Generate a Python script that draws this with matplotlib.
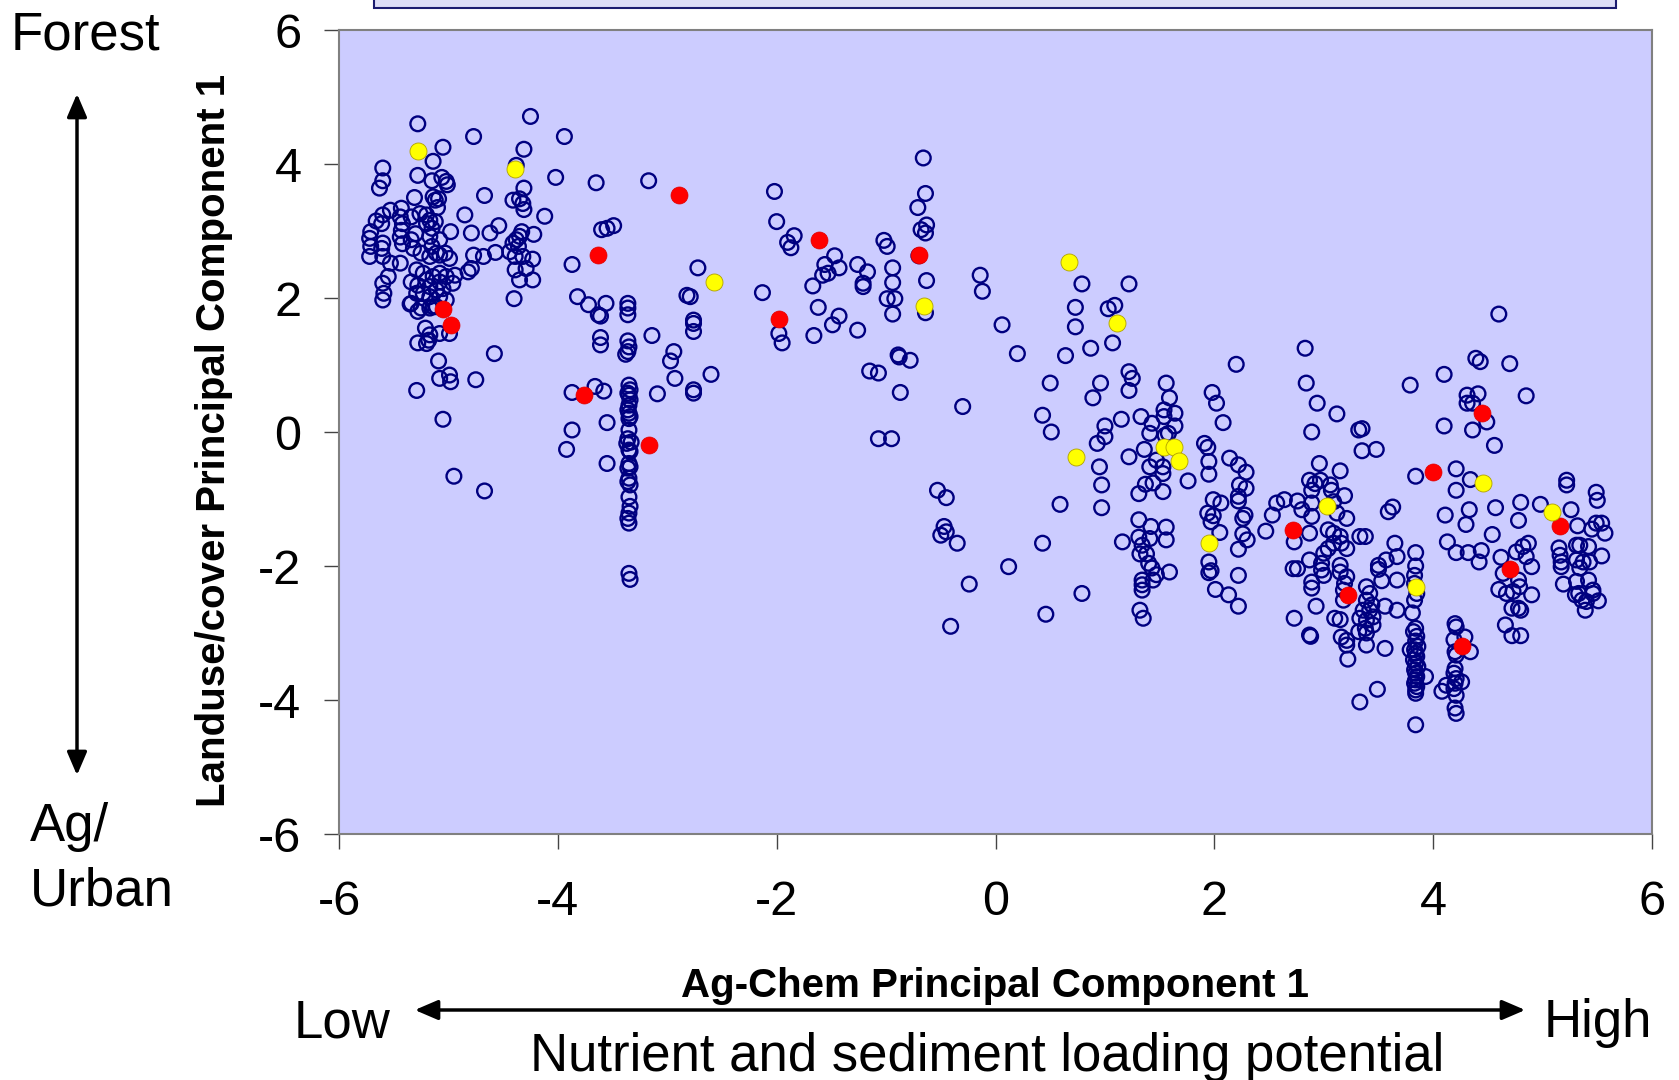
import matplotlib
matplotlib.use("Agg")
import matplotlib.pyplot as plt
from matplotlib.patches import FancyArrowPatch, Rectangle

plt.rcParams['font.family'] = ['Liberation Sans', 'DejaVu Sans']

# all sites (open navy circles)
blue_pts = [
    # left cluster
    (-5.28, 4.60), (-5.05, 4.25), (-4.77, 4.41), (-4.25, 4.71), (-3.94, 4.41), (-4.31, 4.22),
    (-5.14, 4.04), (-5.60, 3.94), (-5.60, 3.75), (-5.63, 3.64), (-5.28, 3.83), (-5.06, 3.80),
    (-5.02, 3.74), (-5.01, 3.69), (-5.15, 3.75), (-4.38, 3.98), (-4.02, 3.80), (-3.65, 3.72),
    (-4.67, 3.53), (-4.31, 3.64), (-4.41, 3.46), (-4.35, 3.48), (-4.32, 3.41), (-4.31, 3.32),
    (-5.31, 3.50), (-5.14, 3.51), (-5.09, 3.48), (-5.10, 3.35), (-5.12, 3.46), (-5.53, 3.31),
    (-5.60, 3.24), (-5.66, 3.15), (-5.61, 3.11), (-5.43, 3.34), (-5.44, 3.21), (-5.42, 3.11),
    (-5.43, 3.01), (-5.44, 2.91), (-5.42, 2.81), (-5.71, 2.99), (-5.72, 2.89), (-5.71, 2.77),
    (-5.72, 2.62), (-5.60, 2.82), (-5.61, 2.74), (-5.60, 2.62), (-5.34, 3.21), (-5.26, 3.26),
    (-5.20, 3.24), (-5.30, 2.96), (-5.34, 2.87), (-5.32, 2.74), (-5.20, 3.11), (-5.17, 3.16),
    (-5.12, 3.14), (-5.15, 3.04), (-5.17, 2.92), (-4.85, 3.24), (-4.98, 2.99), (-5.08, 2.87),
    (-5.15, 2.77), (-5.11, 2.67), (-4.79, 2.97), (-4.62, 2.97), (-4.54, 3.08), (-4.77, 2.64),
    (-4.68, 2.62), (-4.57, 2.68), (-4.22, 2.95), (-4.33, 2.99), (-4.35, 2.92), (-4.38, 2.87),
    (-4.41, 2.82), (-4.36, 2.77), (-4.44, 2.69), (-4.39, 2.62), (-4.32, 2.62), (-4.23, 2.58),
    (-4.39, 2.42), (-4.29, 2.44), (-4.35, 2.27), (-4.23, 2.27), (-4.40, 1.99), (-4.12, 3.22),
    (-3.87, 2.50), (-3.82, 2.02), (-3.72, 1.90), (-5.53, 2.52), (-5.44, 2.52), (-5.55, 2.32),
    (-5.60, 2.22), (-5.59, 2.07), (-5.60, 1.97), (-5.25, 2.67), (-5.17, 2.62), (-5.08, 2.64),
    (-5.03, 2.67), (-4.99, 2.59), (-5.29, 2.42), (-5.23, 2.37), (-5.34, 2.24), (-5.28, 2.19),
    (-5.20, 2.27), (-5.14, 2.32), (-5.08, 2.37), (-5.02, 2.32), (-4.94, 2.34), (-4.96, 2.22),
    (-5.17, 2.17), (-5.11, 2.12), (-5.05, 2.14), (-5.23, 2.07), (-5.29, 2.07), (-5.17, 2.02),
    (-5.08, 2.02), (-5.34, 1.92), (-5.25, 1.85), (-5.14, 1.87), (-5.02, 1.97), (-5.08, 2.24),
    (-4.82, 2.39), (-4.79, 2.44), (-5.21, 1.55), (-5.17, 1.45), (-5.18, 1.37), (-5.28, 1.33),
    (-5.20, 1.32), (-5.08, 1.47), (-4.99, 1.47), (-4.58, 1.17), (-5.09, 1.06), (-5.08, 0.80),
    (-4.99, 0.85), (-4.98, 0.75), (-4.75, 0.78), (-5.29, 0.62), (-5.05, 0.19), (-4.95, -0.66),
    (-4.67, -0.88), (-3.87, 0.59), (-3.66, 0.68), (-3.63, 1.75), (-3.87, 0.03), (-3.92, -0.26),
    (-5.35, 1.91), (-5.28, 1.80), (-5.17, 1.85), (-5.11, 1.87),
    # x ~ -3.5 .. -2
    (-3.17, 3.75), (-2.02, 3.59), (-2.00, 3.14), (-3.55, 3.04), (-3.60, 3.02), (-3.49, 3.08),
    (-2.72, 2.45), (-2.82, 2.04), (-2.79, 2.02), (-2.13, 2.08), (-3.61, 1.73), (-3.56, 1.92),
    (-3.36, 1.92), (-3.36, 1.85), (-3.36, 1.75), (-2.76, 1.67), (-2.76, 1.62), (-2.76, 1.50),
    (-1.98, 1.47), (-3.61, 1.41), (-3.61, 1.30), (-3.36, 1.36), (-3.35, 1.27), (-3.36, 1.20),
    (-3.38, 1.16), (-3.14, 1.44), (-2.94, 1.20), (-2.97, 1.06), (-2.60, 0.86), (-2.93, 0.80),
    (-2.76, 0.63), (-2.76, 0.58), (-3.09, 0.57), (-3.58, 0.61), (-3.55, 0.14), (-3.55, -0.47),
    # column at x ~ -3.35
    (-3.35, 0.70), (-3.34, 0.63), (-3.36, 0.58), (-3.35, 0.55), (-3.34, 0.48), (-3.35, 0.40),
    (-3.36, 0.33), (-3.35, 0.28), (-3.34, 0.23), (-3.35, 0.20), (-3.35, 0.03), (-3.36, -0.10),
    (-3.33, -0.15), (-3.37, -0.17), (-3.35, -0.27), (-3.34, -0.29), (-3.35, -0.47), (-3.34, -0.52),
    (-3.36, -0.54), (-3.35, -0.69), (-3.36, -0.74), (-3.34, -0.79), (-3.35, -0.97), (-3.34, -1.11),
    (-3.35, -1.21), (-3.36, -1.29), (-3.35, -1.36), (-3.35, -2.11), (-3.34, -2.20),
    # middle
    (-0.66, 4.09), (-0.64, 3.56), (-0.71, 3.35), (-0.63, 3.09), (-0.68, 3.02), (-0.64, 2.97),
    (-1.84, 2.93), (-1.90, 2.83), (-1.87, 2.75), (-1.02, 2.86), (-0.99, 2.77), (-0.70, 2.63),
    (-1.47, 2.63), (-1.56, 2.50), (-1.43, 2.45), (-1.53, 2.37), (-1.58, 2.34), (-1.67, 2.18),
    (-1.26, 2.50), (-1.17, 2.39), (-1.21, 2.22), (-1.21, 2.17), (-0.94, 2.45), (-0.94, 2.23),
    (-0.99, 1.99), (-0.92, 1.99), (-0.94, 1.76), (-0.63, 2.26), (-1.62, 1.86), (-1.43, 1.73),
    (-1.49, 1.60), (-1.66, 1.44), (-1.26, 1.52), (-1.95, 1.33), (-0.64, 1.78), (-0.14, 2.34),
    (-0.12, 2.10), (0.06, 1.60), (0.20, 1.17), (-0.89, 1.15), (-0.88, 1.12), (-0.78, 1.07),
    (-1.15, 0.91), (-1.07, 0.88), (-0.87, 0.59), (-0.30, 0.38), (-1.07, -0.10), (-0.95, -0.10),
    (0.79, 2.21), (1.22, 2.21), (0.73, 1.86), (0.73, 1.57), (1.03, 1.84), (1.09, 1.89),
    (1.07, 1.33), (0.87, 1.25), (0.64, 1.14), (1.22, 0.90), (1.25, 0.80), (1.22, 0.62),
    (0.96, 0.73), (0.89, 0.51), (0.50, 0.73), (0.43, 0.25), (0.51, 0.00),
    (1.56, 0.73), (1.59, 0.51), (1.54, 0.33), (1.64, 0.28), (1.54, 0.23), (1.64, 0.09),
    (1.55, -0.05), (1.58, -0.02), (1.33, 0.23), (1.43, 0.13), (1.41, -0.02), (1.15, 0.19),
    (1.00, 0.09), (1.00, -0.07), (0.93, -0.17), (1.36, -0.26), (1.22, -0.37), (0.95, -0.52),
    (0.97, -0.79), (0.97, -1.13), (0.59, -1.08), (1.47, -0.42), (1.53, -0.52), (1.53, -0.62),
    (1.41, -0.52), (1.44, -0.76), (1.37, -0.78), (1.31, -0.92), (1.53, -0.89), (1.76, -0.73),
    (-0.53, -0.87), (-0.45, -0.98), (-0.47, -1.41), (-0.50, -1.54), (-0.45, -1.49), (-0.35, -1.66),
    (0.43, -1.66), (0.12, -2.01), (-0.24, -2.27), (0.79, -2.41), (0.46, -2.72), (-0.41, -2.90),
    (1.31, -1.31), (1.42, -1.41), (1.56, -1.42), (1.31, -1.57), (1.41, -1.59), (1.56, -1.61),
    (1.16, -1.64), (1.34, -1.69), (1.32, -1.82), (1.38, -1.82), (1.40, -1.96), (1.43, -2.03),
    (1.47, -2.13), (1.59, -2.09), (1.44, -2.21), (1.34, -2.21), (1.34, -2.28), (1.34, -2.36),
    (1.32, -2.66), (1.35, -2.78),
    # x ~ 2 .. 3.7
    (2.20, 1.01), (2.83, 1.25), (2.84, 0.73), (2.94, 0.43), (3.12, 0.27), (2.89, 0.00),
    (3.32, 0.03), (3.35, 0.05), (3.35, -0.28), (3.48, -0.26), (1.98, 0.59), (2.02, 0.43),
    (2.08, 0.14), (1.91, -0.17), (1.94, -0.23), (1.95, -0.44), (1.95, -0.63), (2.14, -0.39),
    (2.22, -0.49), (2.29, -0.60), (2.23, -0.79), (2.29, -0.84), (2.22, -0.96), (2.22, -1.03),
    (1.99, -1.01), (2.06, -1.06), (1.94, -1.21), (1.99, -1.25), (1.97, -1.34), (2.05, -1.50),
    (2.28, -1.24), (2.26, -1.29), (2.26, -1.52), (2.30, -1.61), (2.22, -1.75), (1.95, -1.94),
    (1.95, -2.10), (1.97, -2.07), (2.22, -2.14), (2.01, -2.35), (2.13, -2.43), (2.22, -2.60),
    (2.47, -1.48), (2.53, -1.24), (2.57, -1.06), (2.64, -1.01), (2.76, -1.03), (2.80, -1.16),
    (2.73, -1.64), (2.72, -2.04), (2.76, -2.04), (2.87, -0.72), (2.92, -0.77), (2.97, -0.72),
    (2.89, -0.87), (2.89, -1.06), (2.89, -1.26), (2.87, -1.51), (2.96, -0.47), (3.15, -0.58),
    (3.19, -0.95), (3.06, -0.79), (3.07, -0.87), (3.09, -1.04), (3.12, -1.21), (3.21, -1.29),
    (3.04, -1.46), (3.09, -1.51), (3.15, -1.56), (3.16, -1.66), (3.21, -1.74), (3.09, -1.66),
    (3.04, -1.74), (3.00, -1.81), (2.87, -1.91), (2.98, -1.96), (2.98, -2.06), (3.15, -1.99),
    (3.15, -2.09), (2.89, -2.24), (2.89, -2.33), (3.00, -2.14), (3.21, -2.16), (3.19, -2.26),
    (3.18, -2.36), (3.18, -2.51), (3.33, -1.56), (3.38, -1.56), (2.93, -2.60), (2.73, -2.78),
    (2.87, -3.03), (2.88, -3.05), (3.10, -2.78), (3.15, -2.80), (3.39, -2.31), (3.42, -2.41),
    (3.39, -2.51), (3.44, -2.58), (3.36, -2.66), (3.42, -2.66), (3.45, -2.76), (3.33, -2.78),
    (3.39, -2.81), (3.45, -2.88), (3.38, -2.93), (3.39, -3.00), (3.39, -3.18), (3.32, -2.98),
    (3.50, -1.99), (3.50, -2.05), (3.57, -1.91), (3.67, -1.86), (3.53, -2.22), (3.56, -2.60),
    (3.56, -3.23), (3.65, -1.66), (3.67, -2.21), (3.67, -2.66), (3.59, -1.19), (3.63, -1.12),
    (3.16, -3.06), (3.21, -3.11), (3.21, -3.18), (3.22, -3.39), (3.49, -3.84), (3.33, -4.03),
    # column at x ~ 3.84
    (3.84, -0.66), (3.84, -1.80), (3.84, -2.00), (3.83, -2.14), (3.83, -2.26), (3.85, -2.41),
    (3.83, -2.51), (3.81, -2.70), (3.84, -2.93), (3.82, -2.98), (3.85, -3.05), (3.84, -3.12),
    (3.86, -3.20), (3.83, -3.25), (3.84, -3.30), (3.85, -3.35), (3.82, -3.40), (3.84, -3.45),
    (3.86, -3.50), (3.83, -3.55), (3.84, -3.60), (3.85, -3.65), (3.84, -3.70), (3.83, -3.75),
    (3.85, -3.80), (3.84, -3.85), (3.84, -3.90), (3.79, -3.25), (3.93, -3.65), (3.84, -4.37),
    # right
    (4.60, 1.76), (4.39, 1.10), (4.43, 1.05), (4.70, 1.02), (3.79, 0.70), (4.10, 0.86),
    (4.31, 0.55), (4.41, 0.57), (4.31, 0.43), (4.36, 0.43), (4.85, 0.54), (4.49, 0.15),
    (4.10, 0.09), (4.36, 0.03), (4.56, -0.20), (4.21, -0.55), (4.34, -0.71), (4.21, -0.87),
    (4.11, -1.24), (4.33, -1.16), (4.30, -1.38), (4.57, -1.13), (4.80, -1.05), (4.78, -1.32),
    (4.98, -1.08), (5.26, -1.16), (5.22, -0.72), (5.22, -0.79), (5.49, -0.90), (5.50, -1.02),
    (4.54, -1.53), (4.13, -1.64), (4.21, -1.80), (4.32, -1.80), (4.44, -1.77), (4.42, -1.94),
    (4.62, -1.87), (4.64, -2.11), (4.60, -2.35), (4.76, -1.79), (4.82, -1.71), (4.87, -1.66),
    (4.85, -1.86), (4.90, -2.01), (4.78, -2.21), (4.79, -2.31), (4.73, -2.38), (4.67, -2.41),
    (4.90, -2.43), (4.72, -2.63), (4.78, -2.63), (4.80, -2.66), (4.66, -2.88), (4.72, -3.04),
    (4.80, -3.04), (5.15, -1.73), (5.16, -1.84), (5.17, -1.94), (5.17, -2.01), (5.19, -2.27),
    (5.32, -1.40), (5.31, -1.69), (5.34, -1.69), (5.42, -1.71), (5.31, -1.91), (5.37, -1.94),
    (5.43, -1.94), (5.34, -2.03), (5.54, -1.85), (5.45, -1.45), (5.49, -1.36), (5.54, -1.36),
    (5.57, -1.51), (5.31, -2.23), (5.42, -2.21), (5.33, -2.41), (5.46, -2.36), (5.30, -2.43),
    (5.36, -2.51), (5.40, -2.53), (5.46, -2.41), (5.51, -2.52), (5.39, -2.66),
    # column at x ~ 4.2
    (4.20, -2.86), (4.21, -2.91), (4.19, -3.10), (4.20, -3.28), (4.21, -3.33), (4.20, -3.53),
    (4.19, -3.60), (4.21, -3.68), (4.20, -3.75), (4.19, -3.83), (4.21, -3.93), (4.20, -4.12),
    (4.21, -4.20), (4.29, -3.06), (4.34, -3.28), (4.26, -3.73), (4.08, -3.87), (4.12, -3.78),
]

red_pts = [
    (-5.05, 1.83), (-4.98, 1.59), (-3.63, 2.64), (-2.89, 3.54), (-3.76, 0.55), (-3.17, -0.19),
    (-1.98, 1.68), (-1.61, 2.87), (-0.70, 2.64), (2.72, -1.46), (3.22, -2.44), (4.00, -0.59),
    (4.45, 0.29), (4.26, -3.19), (4.70, -2.05), (5.16, -1.41),
]

yellow_pts = [
    (-5.28, 4.19), (-4.39, 3.92), (-2.57, 2.24), (-0.65, 1.88), (0.67, 2.53), (1.11, 1.62),
    (0.74, -0.38), (1.54, -0.22), (1.63, -0.22), (1.68, -0.44), (1.95, -1.65), (3.03, -1.11),
    (3.84, -2.31), (4.46, -0.76), (5.09, -1.19),
]

ticks = [-6, -4, -2, 0, 2, 4, 6]

W, H = 1679, 1080
fig = plt.figure(figsize=(W / 100, H / 100), dpi=100)
fig.patch.set_facecolor('white')
ax = fig.add_axes([339 / W, 1 - 834 / H, (1652 - 339) / W, (834 - 30) / H])
ax.set_facecolor('#CCCCFF')

bx = [p[0] for p in blue_pts]
by = [p[1] for p in blue_pts]
ax.scatter(bx, by, s=112, facecolors='none', edgecolors='#000080', linewidths=1.7, zorder=3)
ax.scatter([p[0] for p in red_pts], [p[1] for p in red_pts], s=150, c='#FF0000',
           edgecolors='#E00000', linewidths=0.5, zorder=4)
ax.scatter([p[0] for p in yellow_pts], [p[1] for p in yellow_pts], s=150, c='#FFFF00',
           edgecolors='#B0A000', linewidths=0.6, zorder=4)

ax.set_xlim(-6, 6)
ax.set_ylim(-6, 6)
ax.set_xticks(ticks)
ax.set_yticks(ticks)
ax.set_xticklabels([str(t) for t in ticks])
ax.set_yticklabels([str(t) for t in ticks])
ax.tick_params(axis='both', labelsize=35, length=11, width=1, color='#444444', direction='out')
ax.tick_params(axis='y', pad=16)
ax.tick_params(axis='x', pad=22)
for sp in ax.spines.values():
    sp.set_color('#808080')
    sp.set_linewidth(1.5)

# axis titles
fig.text(995 / W, 1 - 997 / H, 'Ag-Chem Principal Component 1', ha='center', va='baseline',
         fontsize=29, fontweight='bold')
fig.text(214 / W, 1 - 440 / H, 'Landuse/cover Principal Component 1', ha='center', va='center',
         rotation=90, fontsize=29, fontweight='bold')

# annotations
fig.text(11 / W, 1 - 49 / H, 'Forest', ha='left', va='baseline', fontsize=38)
fig.text(30 / W, 1 - 841 / H, 'Ag/', ha='left', va='baseline', fontsize=38)
fig.text(30 / W, 1 - 905 / H, 'Urban', ha='left', va='baseline', fontsize=38)
fig.text(294 / W, 1 - 1037 / H, 'Low', ha='left', va='baseline', fontsize=38)
fig.text(1652 / W, 1 - 1037 / H, 'High', ha='right', va='baseline', fontsize=38)
fig.text(987 / W, 1 - 1071 / H, 'Nutrient and sediment loading potential', ha='center',
         va='baseline', fontsize=38)

arrow_style = '<|-|>,head_length=0.7,head_width=0.3'
fig.add_artist(FancyArrowPatch((77 / W, 1 - 91 / H), (77 / W, 1 - 778 / H),
                               transform=fig.transFigure, arrowstyle=arrow_style,
                               mutation_scale=20, lw=2.5, color='black'))
fig.add_artist(FancyArrowPatch((412 / W, 1 - 1010 / H), (1528 / W, 1 - 1010 / H),
                               transform=fig.transFigure, arrowstyle=arrow_style,
                               mutation_scale=20, lw=2.5, color='black'))

# bottom edge of the legend box above the plot (cut off)
fig.add_artist(Rectangle((374 / W, 1 - 8 / H), (1616 - 374) / W, 20 / H,
                         transform=fig.transFigure, facecolor='#DCDCF5',
                         edgecolor='#1A1A6E', lw=1.5, clip_on=False))

fig.savefig('out.png', dpi=100)
